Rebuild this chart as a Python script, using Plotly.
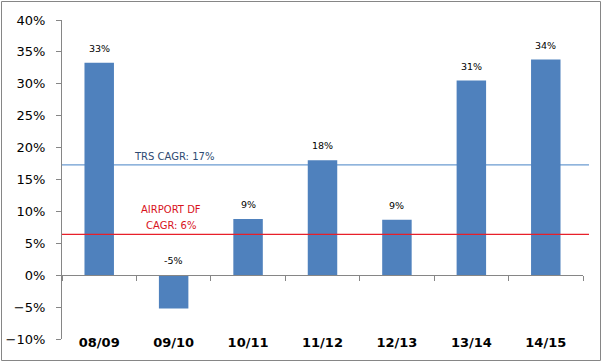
import plotly.graph_objects as go

categories = ["08/09", "09/10", "10/11", "11/12", "12/13", "13/14", "14/15"]
growth = [33.3, -5.2, 8.8, 18.0, 8.7, 30.5, 33.8]
growth_labels = ["33%", "-5%", "9%", "18%", "9%", "31%", "34%"]
trs_cagr = 17.3
airport_cagr = 6.4
y_min, y_max, y_step = -10, 40, 5

GRAY = "#868686"
BAR = "#4f81bd"

fig = go.Figure()
fig.add_trace(go.Bar(x=categories, y=growth, marker=dict(color=BAR, line=dict(width=0)),
                     hoverinfo="skip", showlegend=False))
# helper trace for the zero axis with boundary ticks
fig.add_trace(go.Scatter(x=categories, y=[0] * len(categories), xaxis="x2", mode="markers",
                         marker=dict(opacity=0), hoverinfo="skip", showlegend=False))

zero_pos = (0 - y_min) / (y_max - y_min)

fig.update_layout(
    width=603, height=363,
    margin=dict(l=62, r=20, t=20, b=24, autoexpand=False),
    paper_bgcolor="white", plot_bgcolor="white",
    bargap=0.604,
    font=dict(family="DejaVu Sans", color="black"),
    xaxis=dict(type="category", categoryorder="array", categoryarray=categories,
               range=[-0.5, len(categories) - 0.5], showline=False, ticks="",
               showgrid=False, zeroline=False, anchor="free", position=0.02, automargin=False,
               tickfont=dict(family="DejaVu Sans", size=13, color="black", weight="bold")),
    xaxis2=dict(type="category", categoryorder="array", categoryarray=categories,
                range=[-0.5, len(categories) - 0.5], overlaying="x", anchor="free",
                position=zero_pos, side="bottom", showline=True, linecolor=GRAY, linewidth=1,
                ticks="outside", tickson="boundaries", ticklen=5, tickcolor=GRAY, automargin=False,
                showticklabels=False, showgrid=False, zeroline=False),
    yaxis=dict(range=[y_min, y_max], dtick=y_step, tick0=0, ticksuffix="%", automargin=False,
               showline=True, linecolor=GRAY, linewidth=1, ticks="outside", ticklen=5,
               tickcolor=GRAY, showgrid=False, zeroline=False, ticklabelstandoff=8,
               tickfont=dict(family="DejaVu Sans", size=13, color="black")),
)

# CAGR lines
fig.add_shape(type="line", xref="paper", yref="y", x0=0, x1=1.0115, y0=trs_cagr, y1=trs_cagr,
              line=dict(color="#6b9bd1", width=1.2), layer="below")
fig.add_shape(type="line", xref="paper", yref="y", x0=0, x1=1.0115, y0=airport_cagr, y1=airport_cagr,
              line=dict(color="#e8202a", width=1.2), layer="above")

# border
fig.add_shape(type="rect", xref="paper", yref="paper",
              x0=(1.5 - 62) / 521, x1=(600.5 - 62) / 521,
              y0=(339 - 360.5) / 319, y1=(339 - 1.5) / 319,
              line=dict(color=GRAY, width=1), fillcolor="rgba(0,0,0,0)")

# data labels
for c, v, t in zip(categories, growth, growth_labels):
    fig.add_annotation(x=c, y=max(v, 0), text=t, showarrow=False, yanchor="middle",
                       yshift=14.5, font=dict(family="DejaVu Sans", size=9.5, color="black"))

fig.add_annotation(x=categories[1], y=trs_cagr, text="TRS CAGR: 17%", showarrow=False,
                   yanchor="middle", yshift=8.5,
                   font=dict(family="DejaVu Sans", size=10, color="#2e4a72"))
fig.add_annotation(x=categories[1], y=airport_cagr, text="CAGR: 6%", showarrow=False,
                   yanchor="middle", yshift=8.5, xshift=-3,
                   font=dict(family="DejaVu Sans", size=10, color="#d8121c"))
fig.add_annotation(x=categories[1], y=airport_cagr, text="AIRPORT DF", showarrow=False,
                   yanchor="middle", yshift=24.5, xshift=-3,
                   font=dict(family="DejaVu Sans", size=10, color="#d8121c"))

fig.write_html("out.html", config={"displayModeBar": False},
               post_script="document.body.style.margin='0';document.body.style.padding='0';")
